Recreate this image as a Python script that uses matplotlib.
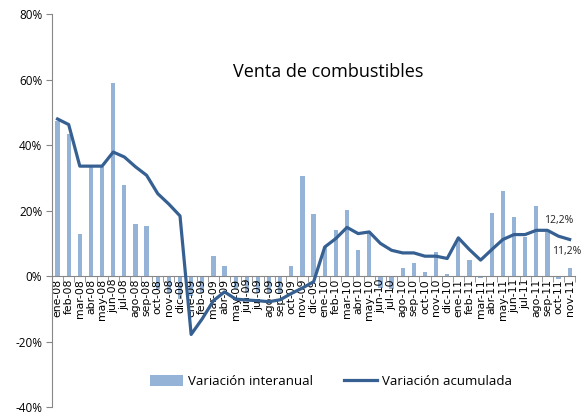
import matplotlib.pyplot as plt
import numpy as np
from matplotlib.ticker import FuncFormatter, MultipleLocator

plt.rcParams['font.family'] = ['Open Sans', 'DejaVu Sans']

months = ["ene-08", "feb-08", "mar-08", "abr-08", "may-08", "jun-08", "jul-08", "ago-08",
          "sep-08", "oct-08", "nov-08", "dic-08", "ene-09", "feb-09", "mar-09", "abr-09",
          "may-09", "jun-09", "jul-09", "ago-09", "sep-09", "oct-09", "nov-09", "dic-09",
          "ene-10", "feb-10", "mar-10", "abr-10", "may-10", "jun-10", "jul-10", "ago-10",
          "sep-10", "oct-10", "nov-10", "dic-10", "ene-11", "feb-11", "mar-11", "abr-11",
          "may-11", "jun-11", "jul-11", "ago-11", "sep-11", "oct-11", "nov-11"]

# year-on-year change (%)
interanual = [47.5, 43.4, 12.8, 33.2, 33.2, 59.1, 27.8, 15.9,
              15.4, -4.0, -5.0, -7.0, -6.0, -5.0, 6.1, 3.0,
              -4.0, -5.0, -5.0, -5.0, -5.0, 3.0, 30.5, 18.9,
              9.0, 14.0, 20.2, 7.9, 13.5, -3.5, -4.0, 2.6,
              4.0, 1.3, 7.4, 0.8, 11.0, 4.9, -0.5, 19.4,
              25.9, 18.1, 12.0, 21.5, 13.5, -1.0, 2.6]

# cumulative change (%)
acumulada = [48.0, 46.3, 33.6, 33.6, 33.6, 37.9, 36.4, 33.4,
             30.8, 25.2, 22.0, 18.4, -17.8, -13.0, -7.5, -4.8,
             -7.0, -7.3, -7.5, -7.8, -7.2, -5.3, -3.6, -1.7,
             8.9, 11.5, 14.9, 13.0, 13.5, 10.0, 7.9, 7.1,
             7.1, 6.1, 6.1, 5.4, 11.7, 8.1, 4.9, 8.1,
             11.2, 12.7, 12.7, 14.0, 14.0, 12.2, 11.2]

bar_color = "#95B3D7"
line_color = "#366092"

fig = plt.figure(figsize=(5.84, 4.18), dpi=100)
ax = fig.add_axes([0.089, 0.026, 0.896, 0.940])

x = np.arange(len(months))
bars = ax.bar(x, interanual, width=0.38, color=bar_color, zorder=1)
line, = ax.plot(x, acumulada, color=line_color, lw=2.3, zorder=3,
                solid_joinstyle="round")

# value labels on the last two points of the cumulative series
ax.annotate(f"{acumulada[-2]:.1f}%".replace(".", ","), (x[-2], acumulada[-2]),
            xytext=(0, 7), textcoords="offset points", ha="center", va="bottom",
            fontsize=7.5, color="#222222")
ax.annotate(f"{acumulada[-1]:.1f}%".replace(".", ","), (x[-1], acumulada[-1]),
            xytext=(8, -5), textcoords="offset points", ha="right", va="top",
            fontsize=7.5, color="#222222", annotation_clip=False)

ax.set_xlim(-0.5, len(months) - 0.5)
ax.set_ylim(-40, 80)
ax.yaxis.set_major_locator(MultipleLocator(20))
ax.yaxis.set_major_formatter(FuncFormatter(lambda v, _: f"{v:.0f}%"))

ax.spines["bottom"].set_position(("data", 0))
for side in ("top", "right"):
    ax.spines[side].set_visible(False)
for side in ("left", "bottom"):
    ax.spines[side].set_color("#878787")

ax.set_xticks(x)
ax.set_xticklabels(months, rotation=90, fontsize=7.8, family="DejaVu Sans")
ax.set_xticks(np.arange(-0.5, len(months)), minor=True)
ax.tick_params(axis="x", which="major", length=0, pad=2)
ax.tick_params(axis="x", which="minor", length=4, color="#878787")
ax.tick_params(axis="y", length=4, color="#878787", labelsize=8.5, pad=3)

ax.text(0.527, 0.852, "Venta de combustibles", transform=ax.transAxes,
        ha="center", va="center", fontsize=13)

ax.legend([bars, line], ["Variación interanual", "Variación acumulada"],
          loc="center", bbox_to_anchor=(0.533, 0.064), ncol=2, frameon=False,
          fontsize=9.5, handlelength=2.5, columnspacing=2.3, handletextpad=0.4,
          handleheight=0.9)

fig.savefig("out.png", dpi=100)
